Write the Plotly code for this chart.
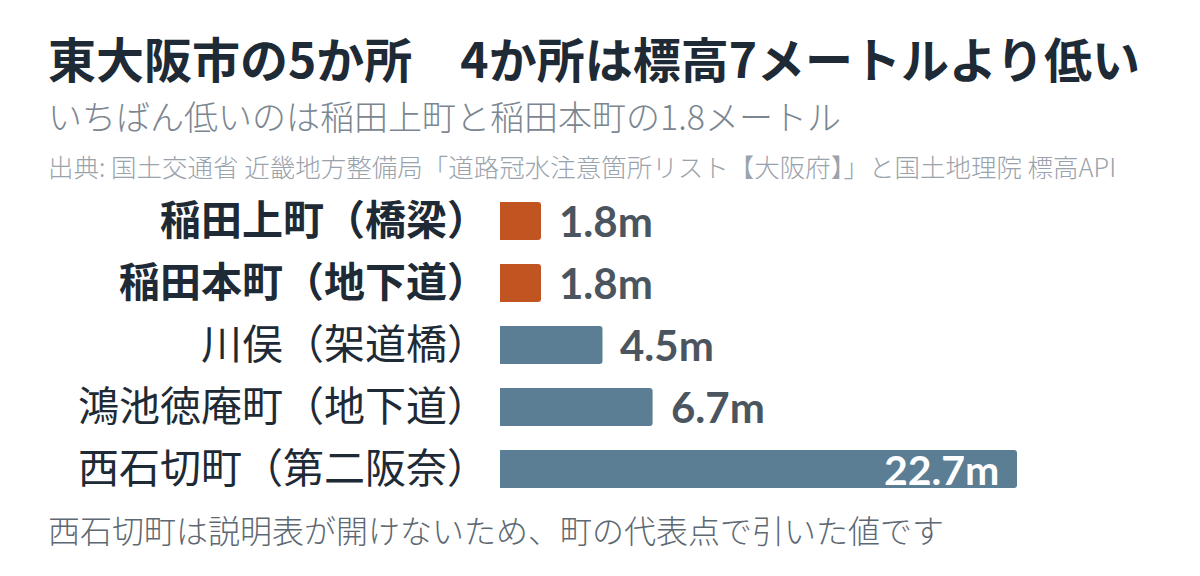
import plotly.graph_objects as go

# ---- data ----
places = ["稲田上町（橋梁）", "稲田本町（地下道）", "川俣（架道橋）", "鴻池徳庵町（地下道）", "西石切町（第二阪奈）"]
elevations = [1.8, 1.8, 4.5, 6.7, 22.7]
highlight = [True, True, False, False, False]
value_labels = ["1.8m", "1.8m", "4.5m", "6.7m", "22.7m"]

title = "東大阪市の5か所　4か所は標高7メートルより低い"
subtitle = "いちばん低いのは稲田上町と稲田本町の1.8メートル"
source = "出典: 国土交通省 近畿地方整備局「道路冠水注意箇所リスト【大阪府】」と国土地理院 標高API"
footnote = "西石切町は説明表が開けないため、町の代表点で引いた値です"

ORANGE = "#c15521"
BLUE = "#5b7e95"
DARK = "#1e2a35"
GRAY_VAL = "#4b5560"

OFF = 8  # page body margin
W, H = 1200 - OFF, 576 - OFF
ML, MT = 500 - OFF, 190 - OFF
MR = W - (1017 - OFF)
MB = H - (500 - OFF)
PW, PH = W - ML - MR, H - MT - MB

def px_x(px):
    return (px - OFF - ML) / PW

def px_y(py):
    return (H - MB - (py - OFF)) / PH

CJK = "Noto Sans CJK JP"
NUM = "Lato"

colors = [ORANGE if h else BLUE for h in highlight]
ticktext = [f"<b>{p}</b>" if h else p for p, h in zip(places, highlight)]

fig = go.Figure()
fig.add_trace(go.Bar(
    x=elevations, y=places, orientation="h",
    marker=dict(color=colors, cornerradius=3, line=dict(width=0)),
    hoverinfo="skip",
))

annotations = []
xmax = max(elevations)
for p, v, lab in zip(places, elevations, value_labels):
    inside = v >= xmax * 0.5
    annotations.append(dict(
        x=v, y=p, xref="x", yref="y", text=f"<b>{lab}</b>", showarrow=False,
        xanchor="right" if inside else "left", xshift=-16 if inside else 16,
        yanchor="middle",
        font=dict(family=NUM, size=42 if not inside else 41, color="white" if inside else GRAY_VAL),
    ))

TX = 46
annotations += [
    dict(x=px_x(TX), y=px_y(57), xref="paper", yref="paper", text=f"<b>{title}</b>",
         showarrow=False, xanchor="left", yanchor="middle",
         font=dict(family=CJK, size=48, color=DARK)),
    dict(x=px_x(TX), y=px_y(115), xref="paper", yref="paper", text=subtitle,
         showarrow=False, xanchor="left", yanchor="middle",
         font=dict(family=CJK, size=34, color="#7b8691", weight=300)),
    dict(x=px_x(TX), y=px_y(165), xref="paper", yref="paper", text=source,
         showarrow=False, xanchor="left", yanchor="middle",
         font=dict(family=CJK, size=25.5, color="#9aa3ac", weight=300)),
    dict(x=px_x(TX), y=px_y(529), xref="paper", yref="paper", text=footnote,
         showarrow=False, xanchor="left", yanchor="middle",
         font=dict(family=CJK, size=32, color="#5d6872", weight=300)),
]

fig.update_layout(
    width=W, height=H,
    margin=dict(l=ML, r=MR, t=MT, b=MB),
    paper_bgcolor="white", plot_bgcolor="white",
    bargap=0.387,
    showlegend=False,
    xaxis=dict(range=[0, xmax], visible=False, fixedrange=True),
    yaxis=dict(
        autorange="reversed", tickmode="array", tickvals=places, ticktext=ticktext,
        tickfont=dict(family=CJK, size=41, color=DARK),
        showgrid=False, zeroline=False, showline=False, ticks="", ticklabelstandoff=11,
        fixedrange=True,
    ),
    annotations=annotations,
)

fig.write_html("out.html", config={"displayModeBar": False})
